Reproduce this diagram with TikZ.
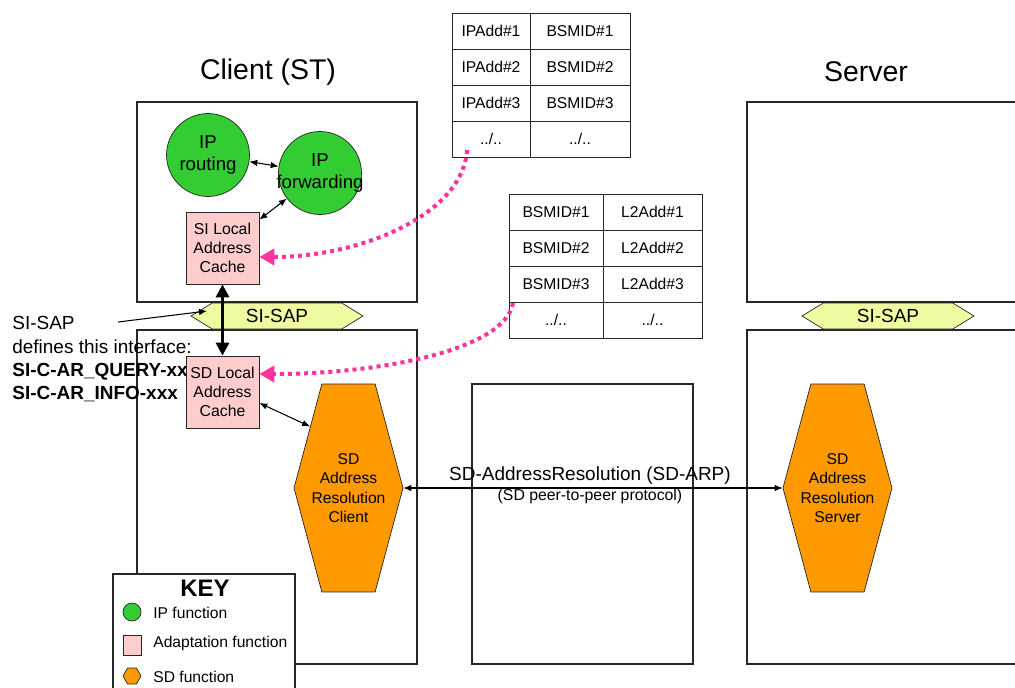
\documentclass[tikz,border=0pt]{standalone}
\usepackage{fontspec}
\setmainfont{Liberation Sans}
\usetikzlibrary{arrows.meta,shapes.symbols}

\definecolor{ipgreen}{RGB}{51,204,51}
\definecolor{adapink}{RGB}{255,204,204}
\definecolor{sapyellow}{RGB}{240,250,160}
\definecolor{sdorange}{RGB}{255,153,0}
\definecolor{linkpink}{RGB}{255,51,153}

\tikzset{
  area/.style={draw=black!85, line width=0.8pt},
  ipfun/.style={circle, draw=black!85, fill=ipgreen, minimum size=1.66cm, inner sep=0pt},
  iptext/.style={align=center, font=\fontsize{10.6}{13}\selectfont},
  cache/.style={draw=black!85, fill=adapink, minimum width=1.46cm, minimum height=1.44cm,
    inner sep=0pt, align=center, font=\fontsize{9}{10.8}\selectfont},
  sdfun/.style={signal, signal to=east and west, signal pointer angle=150, draw=black!85,
    fill=sdorange, minimum width=2.18cm, minimum height=4.16cm, inner sep=0pt},
  sdtext/.style={align=center, font=\fontsize{8.9}{11}\selectfont},
  sap/.style={signal, signal to=east and west, signal pointer angle=63, draw=black!85,
    fill=sapyellow, minimum width=3.44cm, minimum height=0.52cm, inner sep=0pt,
    font=\fontsize{10.8}{13}\selectfont},
  cell/.style={draw=black!85, minimum height=0.72cm, inner sep=0pt, font=\fontsize{8.9}{10}\selectfont},
  title/.style={font=\fontsize{16.2}{19}\selectfont},
  note/.style={anchor=west, inner sep=0pt, font=\fontsize{10.8}{13}\selectfont},
  keytext/.style={anchor=west, inner sep=0pt, font=\fontsize{8.9}{10}\selectfont},
  link/.style={draw=linkpink, line width=0.08cm, dash pattern=on 2.3pt off 2.3pt,
    -{Triangle[length=0.3cm,width=0.32cm]}},
  >={Latex[length=1.6mm,width=1.3mm]}
}

\begin{document}
\begin{tikzpicture}[x=0.02cm, y=-0.02cm]
  \useasboundingbox (0,0) rectangle (1015,687);

  % Titles
  \node[title] (clienttitle) at (268,72) {Client (ST)};
  \node[title] (servertitle) at (866,72) {Server};

  % Client and server areas
  \draw[area] (137,102) rectangle (417,302);
  \draw[area] (137,330) rectangle (417,664);
  \draw[area] (747,102) rectangle (1030,302);
  \draw[area] (747,330) rectangle (1030,664);
  % Network in between
  \draw[area] (472,384) rectangle (693,664);

  % SI-SAP
  \node[sap] (sapc) at (277,316) {SI-SAP};
  \node[sap] (saps) at (888,316) {SI-SAP};

  % Key
  \draw[area, fill=white] (113,574) rectangle (295,700);
  \node[font=\bfseries\fontsize{13.6}{16}\selectfont] (keytitle) at (205,588) {KEY};
  \node[circle, draw=black!85, fill=ipgreen, minimum size=0.36cm, inner sep=0pt] (keyip) at (132,612) {};
  \node[keytext] (keyiptext) at (153,613) {IP function};
  \node[draw=black!85, fill=adapink, minimum width=0.36cm, minimum height=0.4cm, inner sep=0pt] (keyada) at (132,645) {};
  \node[keytext] (keyadatext) at (153,643) {Adaptation function};
  \node[signal, signal to=east and west, signal pointer angle=120, draw=black!85, fill=sdorange,
    minimum width=0.36cm, minimum height=0.32cm, inner sep=0pt] (keysd) at (132,676) {};
  \node[keytext] (keysdtext) at (153,677) {SD function};

  % Interface note
  \node[note] (sinote) at (12,323) {SI-SAP};
  \node[note] (sidef) at (12,347) {defines this interface:};
  \node[note, font=\bfseries\fontsize{10.8}{13}\selectfont] (siquery) at (12,372) {SI-C-AR\_QUERY-xxx};
  \node[note, font=\bfseries\fontsize{10.8}{13}\selectfont] (siinfo) at (12,394) {SI-C-AR\_INFO-xxx};
  \coordinate (sitail) at (118,322);
  \coordinate (sihead) at (207,311);
  \draw[->, line width=0.6pt] (sitail) -- (sihead);

  % Adaptation functions
  \node[cache] (sicache) at (222.5,248) {SI Local\\Address\\Cache};
  \node[cache] (sdcache) at (222.5,392) {SD Local\\Address\\Cache};

  % IP functions
  \node[ipfun, label={[iptext]center:IP\\routing}] (iprt) at (208,155) {};
  \node[ipfun, label={[iptext]center:IP\\forwarding}] (ipfw) at (320,173) {};

  % SD functions
  \node[sdfun, label={[sdtext]center:SD\\Address\\Resolution\\Client}] (sdclient) at (348.5,488) {};
  \node[sdfun, label={[sdtext]center:SD\\Address\\Resolution\\Server}] (sdserver) at (837.5,488) {};

  % Links
  \draw[<->, line width=0.6pt] (iprt) -- (ipfw);
  \draw[<->, line width=0.6pt] (sicache) -- (ipfw);
  \draw[<->, line width=0.6pt] ([yshift=-0.22cm]sdcache.east) -- (sdclient.122);
  \draw[{Triangle[length=0.26cm,width=0.26cm]}-{Triangle[length=0.26cm,width=0.26cm]}, line width=1.7pt]
    (sicache) -- (sdcache);
  \draw[<->, line width=0.6pt] (sdclient.east) -- (sdserver.west);
  \node[font=\fontsize{10.8}{13}\selectfont] (arplabel) at (590,476) {SD-AddressResolution (SD-ARP)};
  \node[font=\fontsize{9}{11}\selectfont] (arpnote) at (590,496) {(SD peer-to-peer protocol)};

  % Address tables
  \foreach \r in {1,2,3} {
    \node[cell, minimum width=1.56cm] (ipt-\r-1) at (491,{36*\r-5}) {IPAdd\#\r};
    \node[cell, minimum width=2cm] (ipt-\r-2) at (580,{36*\r-5}) {BSMID\#\r};
    \node[cell, minimum width=1.88cm] (l2t-\r-1) at (556,{36*\r+176}) {BSMID\#\r};
    \node[cell, minimum width=1.98cm] (l2t-\r-2) at (652.5,{36*\r+176}) {L2Add\#\r};
  }
  \node[cell, minimum width=1.56cm] (ipt-4-1) at (491,139) {../..};
  \node[cell, minimum width=2cm] (ipt-4-2) at (580,139) {../..};
  \node[cell, minimum width=1.88cm] (l2t-4-1) at (556,320) {../..};
  \node[cell, minimum width=1.98cm] (l2t-4-2) at (652.5,320) {../..};

  % Table look-ups
  \coordinate (iptail) at (467,150);
  \coordinate (l2tail) at (513,303);
  \draw[link] (iptail) .. controls (463,215) and (360,257) .. ([yshift=-0.18cm]sicache.east);
  \draw[link] (l2tail) .. controls (505,350) and (380,374) .. ([yshift=0.36cm]sdcache.east);
\end{tikzpicture}
\end{document}
